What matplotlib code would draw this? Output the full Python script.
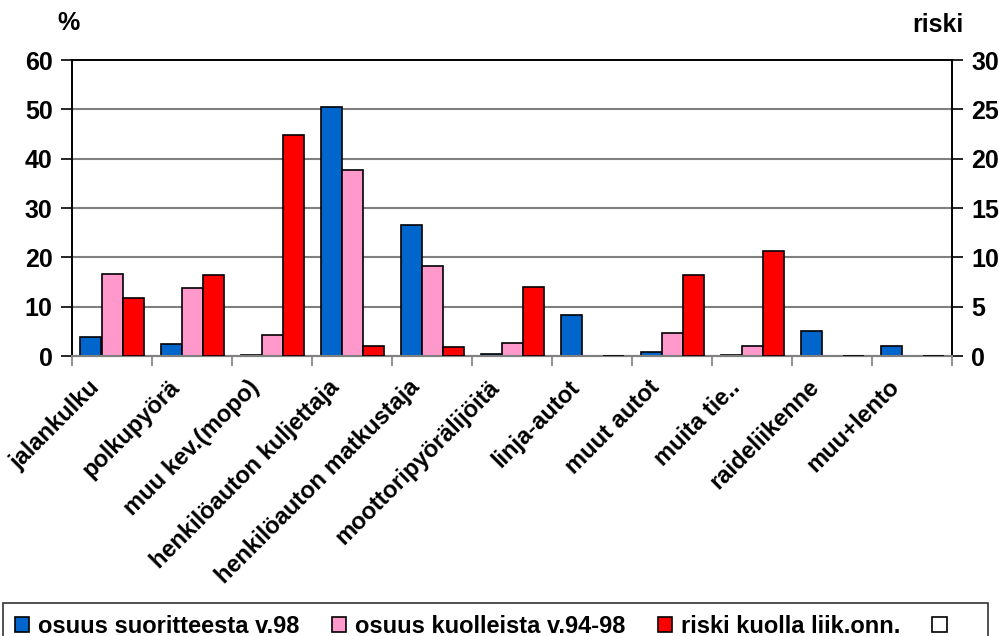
import numpy as np
import matplotlib.pyplot as plt
from matplotlib.patches import Patch

plt.rcParams['font.family'] = ['Liberation Sans', 'DejaVu Sans']
plt.rcParams['font.weight'] = 'bold'

# kulkutapa
categories = ['jalankulku', 'polkupyörä', 'muu kev.(mopo)', 'henkilöauton kuljettaja',
              'henkilöauton matkustaja', 'moottoripyörälijöitä', 'linja-autot', 'muut autot',
              'muita tie..', 'raideliikenne', 'muu+lento']
# osuus suoritteesta v.98 (%)
suorite = [3.8, 2.4, 0.3, 50.5, 26.5, 0.5, 8.3, 0.8, 0.3, 5.0, 2.1]
# osuus kuolleista v.94-98 (%)
kuolleet = [16.6, 13.8, 4.3, 37.8, 18.2, 2.6, 0.1, 4.7, 2.1, 0.0, 0.0]
# riski kuolla liik.onn. (oikea akseli)
riski = [5.9, 8.2, 22.4, 1.0, 0.9, 7.0, 0.05, 8.2, 10.6, 0.05, 0.0]

left_ticks = [0, 10, 20, 30, 40, 50, 60]
right_ticks = [0, 5, 10, 15, 20, 25, 30]

c_blue = '#0066CC'
c_pink = '#FF99CC'
c_red = '#FF0000'
grid_c = '#808080'
fs = 18

fig = plt.figure(figsize=(9.99, 6.36), dpi=100)
ax = fig.add_axes([72 / 999, 1 - 356 / 636, 880 / 999, 296 / 636])
ax2 = ax.twinx()

x = np.arange(len(categories))
w = 21 / 80
b1 = ax.bar(x - w, suorite, w, color=c_blue, edgecolor='black', linewidth=1.2, zorder=3)
b2 = ax.bar(x, kuolleet, w, color=c_pink, edgecolor='black', linewidth=1.2, zorder=3)
b3 = ax2.bar(x + w, riski, w, color=c_red, edgecolor='black', linewidth=1.2, zorder=3)

ax.set_xlim(-0.5, len(categories) - 0.5)
ax.set_ylim(0, 60)
ax2.set_ylim(0, 30)
ax.set_yticks(left_ticks)
ax2.set_yticks(right_ticks)
ax.set_yticklabels([str(v) for v in left_ticks], fontsize=fs, fontweight='bold')
ax2.set_yticklabels([str(v) for v in right_ticks], fontsize=fs, fontweight='bold')

for v in left_ticks[1:-1]:
    ax.axhline(v, color=grid_c, linewidth=1.5, zorder=1)

# x-akselin tikit kategorioiden väleissä
ax.set_xticks(np.arange(len(categories) + 1) - 0.5)
ax.set_xticklabels([])
ax.tick_params(axis='x', length=7, width=1.2, color=grid_c)
ax.tick_params(axis='y', length=8, width=1.2, pad=6)
ax2.tick_params(axis='y', length=8, width=1.2, pad=6)
for xi, lab in zip(x, categories):
    ax.text(xi - 0.3, -4.0, lab, rotation=45, ha='right', va='top', rotation_mode='anchor',
            fontsize=17, fontweight='bold')

for a in (ax, ax2):
    for s in ('top', 'left', 'right'):
        a.spines[s].set_color('black')
        a.spines[s].set_linewidth(1.2)
    a.spines['bottom'].set_color(grid_c)
    a.spines['bottom'].set_linewidth(1.5)

fig.text(68 / 999, 1 - 23 / 636, '%', ha='center', va='center', fontsize=fs, fontweight='bold')
fig.text(938 / 999, 1 - 25 / 636, 'riski', ha='center', va='center', fontsize=fs, fontweight='bold')

empty = Patch(facecolor='white', edgecolor='black', linewidth=1.2)
leg = fig.legend([b1, b2, b3, empty],
                 ['osuus suoritteesta v.98', 'osuus kuolleista v.94-98', 'riski kuolla liik.onn.', '   '],
                 loc='upper left', bbox_to_anchor=(3 / 999, 1 - 603 / 636), ncol=4,
                 prop={'family': 'Liberation Sans', 'weight': 'bold', 'size': 17},
                 handlelength=0.6, handleheight=0.6, handletextpad=0.4, columnspacing=1.35,
                 borderpad=0.5, borderaxespad=0, fancybox=False, frameon=True, edgecolor='black')
leg.get_frame().set_linewidth(1.2)

fig.savefig('out.png', dpi=100)
